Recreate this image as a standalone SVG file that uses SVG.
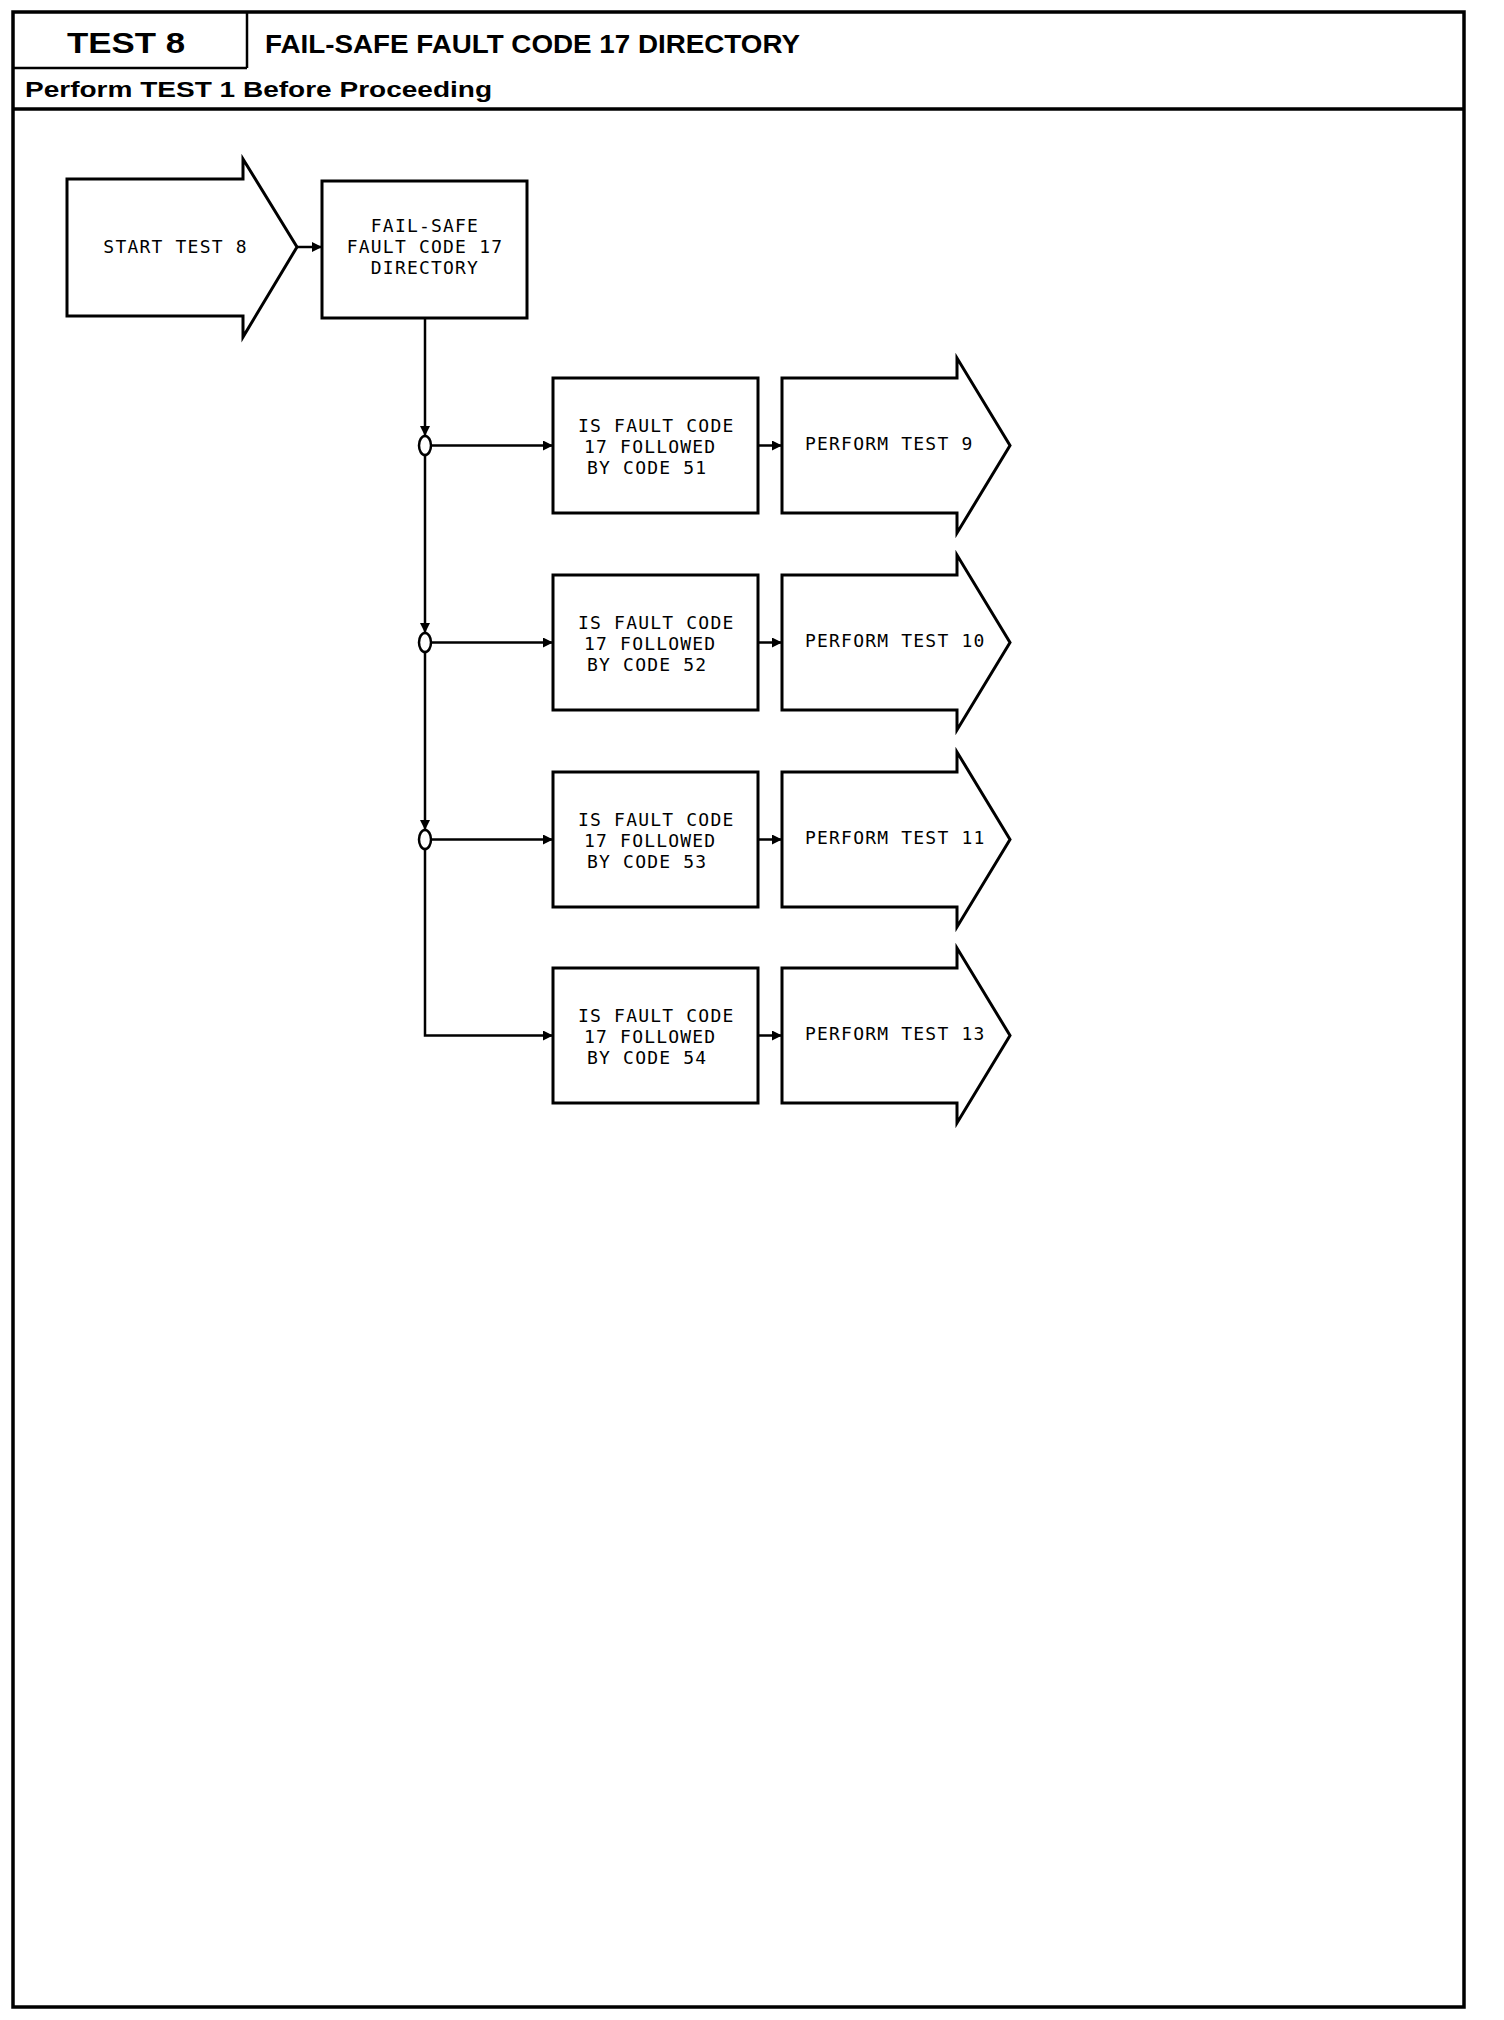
<svg xmlns="http://www.w3.org/2000/svg" width="1504" height="2020" viewBox="0 0 1504 2020">
<style>
.frame{fill:none;stroke:#000;stroke-width:3.5}
.rule{fill:none;stroke:#000;stroke-width:2.5}
.node{fill:#fff;stroke:#000;stroke-width:3;stroke-linejoin:miter}
.conn{fill:none;stroke:#000;stroke-width:2.5}
.junc{fill:#fff;stroke:#000;stroke-width:2.5}
.mono{font-family:"DejaVu Sans Mono","Liberation Mono",monospace;font-size:18px;letter-spacing:1.2px;fill:#000}
.hdr{font-family:"Liberation Sans",Arial,sans-serif;font-weight:bold;fill:#000}
</style>
<defs>
<marker id="ah" viewBox="0 0 10 10" refX="10" refY="5" markerWidth="11" markerHeight="10" markerUnits="userSpaceOnUse" orient="auto">
<path d="M0,0 L10,5 L0,10 z" fill="#000"/>
</marker>
</defs>
<rect width="1504" height="2020" fill="#fff"/>
<g id="header">
<rect class="frame" x="13" y="12" width="1451" height="1995"/>
<line class="rule" x1="247" y1="12" x2="247" y2="68"/>
<line class="rule" x1="13" y1="68" x2="247" y2="68"/>
<line class="frame" x1="13" y1="109" x2="1464" y2="109"/>
<text class="hdr" x="67" y="53" font-size="30" textLength="118" lengthAdjust="spacingAndGlyphs">TEST 8</text>
<text class="hdr" x="265" y="53" font-size="25" textLength="535" lengthAdjust="spacingAndGlyphs">FAIL-SAFE FAULT CODE 17 DIRECTORY</text>
<text class="hdr" x="25" y="97" font-size="22" textLength="467" lengthAdjust="spacingAndGlyphs">Perform TEST 1 Before Proceeding</text>
</g>
<g id="connectors">
<path class="conn" d="M297,247 H322" marker-end="url(#ah)"/>
<path class="conn" d="M425,318 V436" marker-end="url(#ah)"/>
<path class="conn" d="M425,455 V633" marker-end="url(#ah)"/>
<path class="conn" d="M425,652 V830" marker-end="url(#ah)"/>
<path class="conn" d="M425,849 V1035.5 H553" marker-end="url(#ah)"/>
<path class="conn" d="M431,445.5 H553" marker-end="url(#ah)"/>
<path class="conn" d="M431,642.5 H553" marker-end="url(#ah)"/>
<path class="conn" d="M431,839.5 H553" marker-end="url(#ah)"/>
<path class="conn" d="M758,445.5 H782" marker-end="url(#ah)"/>
<path class="conn" d="M758,642.5 H782" marker-end="url(#ah)"/>
<path class="conn" d="M758,839.5 H782" marker-end="url(#ah)"/>
<path class="conn" d="M758,1035.5 H782" marker-end="url(#ah)"/>
<ellipse class="junc" cx="425" cy="445.5" rx="6" ry="9.5"/>
<ellipse class="junc" cx="425" cy="642.5" rx="6" ry="9.5"/>
<ellipse class="junc" cx="425" cy="839.5" rx="6" ry="9.5"/>
</g>
<g id="start">
<path class="node" d="M67,179 H243 V159 L297,247 L243,337 V316 H67 Z"/>
<text class="mono" x="175.6" y="253" text-anchor="middle">START TEST 8</text>
</g>
<g id="directory">
<rect class="node" x="322" y="181" width="205" height="137"/>
<text class="mono" text-anchor="middle"><tspan x="425" y="232">FAIL-SAFE</tspan><tspan x="425" y="253">FAULT CODE 17</tspan><tspan x="425" y="274">DIRECTORY</tspan></text>
</g>
<g id="q51">
<rect class="node" x="553" y="378" width="205" height="135"/>
<text class="mono"><tspan x="578" y="431.5">IS FAULT CODE</tspan><tspan x="584" y="452.5">17 FOLLOWED</tspan><tspan x="587" y="473.5">BY CODE 51</tspan></text>
</g>
<g id="test9">
<path class="node" d="M782,378 H957 V358 L1010,445.5 L957,533 V513 H782 Z"/>
<text class="mono" x="805" y="450">PERFORM TEST 9</text>
</g>
<g id="q52">
<rect class="node" x="553" y="575" width="205" height="135"/>
<text class="mono"><tspan x="578" y="628.5">IS FAULT CODE</tspan><tspan x="584" y="649.5">17 FOLLOWED</tspan><tspan x="587" y="670.5">BY CODE 52</tspan></text>
</g>
<g id="test10">
<path class="node" d="M782,575 H957 V555 L1010,642.5 L957,730 V710 H782 Z"/>
<text class="mono" x="805" y="647">PERFORM TEST 10</text>
</g>
<g id="q53">
<rect class="node" x="553" y="772" width="205" height="135"/>
<text class="mono"><tspan x="578" y="825.5">IS FAULT CODE</tspan><tspan x="584" y="846.5">17 FOLLOWED</tspan><tspan x="587" y="867.5">BY CODE 53</tspan></text>
</g>
<g id="test11">
<path class="node" d="M782,772 H957 V752 L1010,839.5 L957,927 V907 H782 Z"/>
<text class="mono" x="805" y="844">PERFORM TEST 11</text>
</g>
<g id="q54">
<rect class="node" x="553" y="968" width="205" height="135"/>
<text class="mono"><tspan x="578" y="1021.5">IS FAULT CODE</tspan><tspan x="584" y="1042.5">17 FOLLOWED</tspan><tspan x="587" y="1063.5">BY CODE 54</tspan></text>
</g>
<g id="test13">
<path class="node" d="M782,968 H957 V948 L1010,1035.5 L957,1123 V1103 H782 Z"/>
<text class="mono" x="805" y="1040">PERFORM TEST 13</text>
</g>
</svg>
